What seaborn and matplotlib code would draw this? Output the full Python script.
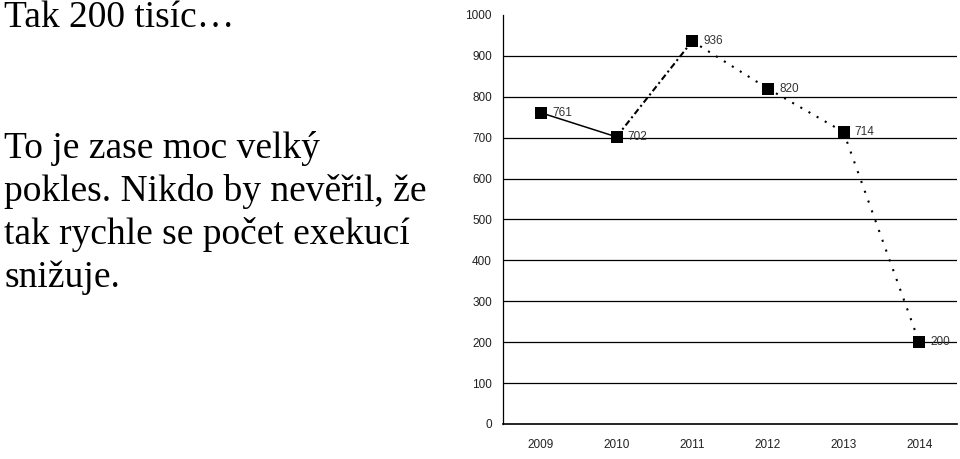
import numpy as np
import pandas as pd
import matplotlib
matplotlib.use("Agg")
import matplotlib.pyplot as plt
import seaborn as sns

# data
years = ["2009", "2010", "2011", "2012", "2013", "2014"]
counts = [761, 702, 936, 820, 714, 200]
seg_styles = ["-", (0, (3, 1.5, 1, 1.5)), (0, (1, 3.5)), (0, (1, 3.5)), (0, (1, 4))]
y_ticks = list(range(0, 1001, 100))

title_text = "Tak 200 tisíc…"
body_lines = ["To je zase moc velký",
              "pokles. Nikdo by nevěřil, že",
              "tak rychle se počet exekucí",
              "snižuje."]

sns.set_style("white")
plt.rcParams['font.family'] = ['Liberation Sans', 'DejaVu Sans']

fig = plt.figure(figsize=(9.6, 4.59), dpi=100)
ax = fig.add_axes([503 / 960, 1 - 424 / 459, 454 / 960, 409 / 459])

df = pd.DataFrame({"year": years, "count": counts})
x = np.arange(len(years))

# line segments, each with its own dash style
for i, ls in enumerate(seg_styles):
    seg = pd.DataFrame({"x": x[i:i + 2], "y": counts[i:i + 2]})
    sns.lineplot(data=seg, x="x", y="y", ax=ax, color="black",
                 lw=1.1 if i == 0 else 1.5,
                 linestyle=ls, estimator=None, sort=False)

sns.scatterplot(data=df.assign(x=x), x="x", y="count", ax=ax, marker="s",
                s=75, color="black", edgecolor="black", linewidth=0, zorder=5)

for xi, v in zip(x, counts):
    ax.text(xi + 0.15, v, str(v), fontsize=8.5, va="center", ha="left", color="#333333")

ax.set_xlim(-0.5, len(years) - 0.5)
ax.set_ylim(0, 1000)
ax.set_yticks(y_ticks)
ax.set_yticklabels([str(t) for t in y_ticks], fontsize=8.5, color="#222222")
ax.set_xticks(x)
ax.set_xticklabels(years, fontsize=8.5, color="#222222")
ax.set_xticks(np.arange(len(years) + 1) - 0.5, minor=True)
ax.tick_params(axis="x", which="major", length=0, pad=11)
ax.tick_params(axis="x", which="minor", length=4, width=0.8, direction="out", color="black")
ax.tick_params(axis="y", length=4, width=0.8, direction="out", color="black", pad=4)
for t in y_ticks[1:-1]:
    ax.axhline(t, color="black", lw=0.9, zorder=0)
ax.set_xlabel("")
ax.set_ylabel("")
for side in ["top", "right"]:
    ax.spines[side].set_visible(False)
ax.spines["left"].set_color("black")
ax.spines["bottom"].set_color("black")
ax.spines["left"].set_linewidth(0.9)
ax.spines["bottom"].set_linewidth(1.2)

serif = ["Liberation Serif", "DejaVu Serif"]
fig.text(4 / 960, 1 - 27 / 459, title_text, fontsize=27, va="baseline", ha="left",
         family=serif, color="black")
for k, line in enumerate(body_lines):
    fig.text(4 / 960, 1 - (158 + 43 * k) / 459, line, fontsize=27, va="baseline",
             ha="left", family=serif, color="black")

fig.savefig("out.png", dpi=100)
